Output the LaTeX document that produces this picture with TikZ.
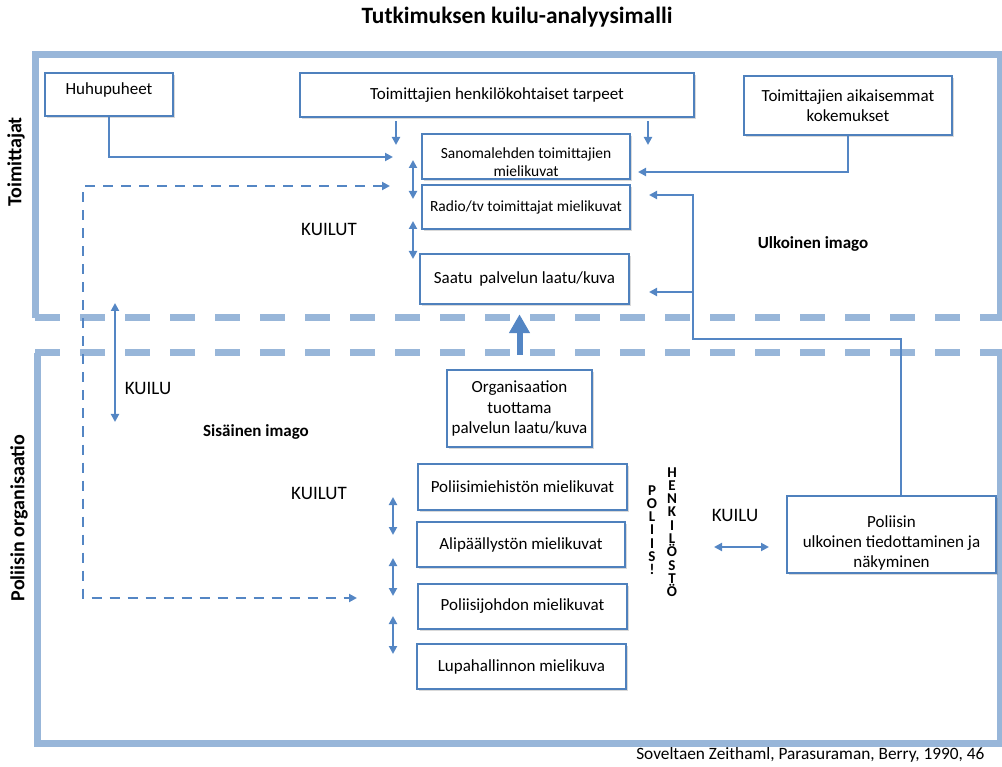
\documentclass[tikz,border=0pt]{standalone}
\usepackage{fontspec}
\setmainfont{Carlito}
\usetikzlibrary{arrows.meta,shadows}

\definecolor{band}{RGB}{152,182,217}
\definecolor{edge}{RGB}{79,129,189}
\definecolor{wire}{RGB}{84,134,196}

\tikzset{
  region/.style={draw=band, line width=7pt},
  regiondash/.style={region, dash pattern=on 25pt off 20pt},
  box/.style={draw=edge, line width=2.5pt, fill=white, inner sep=0pt, align=center,
    font=\fontsize{17}{20.5}\selectfont,
    drop shadow={shadow xshift=1.5pt, shadow yshift=-2pt, opacity=0.25, fill=black!60}},
  smallbox/.style={box, font=\fontsize{15.5}{18}\selectfont},
  wire/.style={draw=wire, line width=2.8pt},
  tip/.style={wire, -{Triangle[length=8pt,width=8pt]}},
  twotip/.style={wire, {Triangle[length=8pt,width=8pt]}-{Triangle[length=8pt,width=8pt]}},
  dashwire/.style={twotip, dash pattern=on 10pt off 8pt},
  bigarrow/.style={draw=wire, line width=6pt, -{Triangle[length=19pt,width=20pt]}},
  gaplabel/.style={font=\fontsize{19}{22}\selectfont},
  zonelabel/.style={font=\fontsize{17}{20}\selectfont\bfseries},
  sidelabel/.style={font=\fontsize{20}{22}\selectfont\bfseries, rotate=90},
  letter/.style={font=\fontsize{15}{16}\selectfont\bfseries, inner sep=0pt,
    text height=10pt, text depth=0pt}
}

\begin{document}
\begin{tikzpicture}[x=1pt,y=-1pt]
\useasboundingbox (0,0) rectangle (1002,767);

% title
\node[font=\fontsize{23.4}{26}\selectfont\bfseries] (title) at (517,17) {Tutkimuksen kuilu-analyysimalli};

% the two regions
\draw[region] (35,318) -- (35,55) -- (1000,55) -- (1000,318);
\draw[regiondash] (35,318) -- (1003,318);
\draw[regiondash] (35,353) -- (1003,353);
\draw[region] (37,353) -- (37,743) -- (1000,743) -- (1000,353);

\node[sidelabel] (toim) at (16,162) {Toimittajat};
\node[sidelabel] (polorg) at (19,518) {Poliisin organisaatio};

% upper boxes
\node[box, minimum width=128pt, minimum height=43pt] (huhu) at (109,94.5) {};
\node[font=\fontsize{17}{20.5}\selectfont] (huhutxt) at (109,90) {Huhupuheet};
\node[box, minimum width=394pt, minimum height=44pt] (tarp) at (497,95) {Toimittajien henkilökohtaiset tarpeet};
\node[box, minimum width=208pt, minimum height=59pt] (koke) at (848,105.5) {Toimittajien aikaisemmat\\kokemukset};
\node[smallbox, minimum width=208pt, minimum height=45pt] (sano) at (526,156.5) {};
\node[align=center, font=\fontsize{15.5}{18}\selectfont] (sanotxt) at (526,162) {Sanomalehden toimittajien\\mielikuvat};
\node[smallbox, minimum width=208pt, minimum height=44pt] (radio) at (526,207) {Radio/tv toimittajat mielikuvat};
\node[box, minimum width=209pt, minimum height=50pt] (saatu) at (524.5,279) {Saatu\hspace{3pt} palvelun laatu/kuva};

% lower boxes
\node[box, minimum width=145pt, minimum height=77pt] (org) at (519.5,408.5) {Organisaation\\tuottama\\palvelun laatu/kuva};
\node[box, minimum width=209pt, minimum height=46pt] (mies) at (522.5,487) {Poliisimiehistön mielikuvat};
\node[box, minimum width=208pt, minimum height=45pt] (ali) at (521,544.5) {Alipäällystön mielikuvat};
\node[box, minimum width=209pt, minimum height=45pt] (johto) at (522.5,606.5) {Poliisijohdon mielikuvat};
\node[box, minimum width=209pt, minimum height=45pt] (lupa) at (521.5,666.5) {Lupahallinnon mielikuva};
\node[box, minimum width=209pt, minimum height=77pt] (ulk) at (891.5,534.5) {};
\node[align=center, font=\fontsize{17}{20}\selectfont] (ulktxt) at (891.5,543) {Poliisin\\ulkoinen tiedottaminen ja\\näkyminen};

% free ends of the connectors
\coordinate (t1) at (396,145);
\coordinate (t2) at (648,145);
\coordinate (h1) at (393,157);
\coordinate (k1) at (638,172);
\coordinate (dA) at (390,186);
\coordinate (dB) at (83,186);
\coordinate (dC) at (83,598);
\coordinate (dD) at (357,598);
\coordinate (r1) at (901,339);
\coordinate (r2) at (693,339);
\coordinate (r3) at (649,195);
\coordinate (b1) at (693,292);
\coordinate (b2) at (649,292);
\coordinate (u1) at (413,160); \coordinate (u2) at (413,199);
\coordinate (u3) at (413,221); \coordinate (u4) at (413,259);
\coordinate (g1) at (115,303); \coordinate (g2) at (115,422);
\coordinate (l1) at (393,497); \coordinate (l2) at (393,535);
\coordinate (l3) at (393,558); \coordinate (l4) at (393,596);
\coordinate (l5) at (393,616); \coordinate (l6) at (393,654);
\coordinate (e1) at (714,547); \coordinate (e2) at (769,547);

% connectors in the journalists' region
\draw[tip, shorten <=3pt] (tarp.south -| t1) -- (t1);
\draw[tip, shorten <=3pt] (tarp.south -| t2) -- (t2);
\draw[tip] (huhu.south) |- (h1);
\draw[tip] (koke.south) |- (k1);
\draw[twotip] (u1) -- (u2);
\draw[twotip] (u3) -- (u4);

% internal image reaching the journalists
\draw[dashwire] (dA) -- (dB) -- (dC) -- (dD);

% external communication feeding back
\draw[tip] (ulk.north -| r1) |- (r2) |- (r3);
\draw[tip] (b1) -- (b2);

% produced quality towards received quality
\draw[bigarrow] ([yshift=14pt]org.north) -- ([yshift=-9pt]org.north |- saatu.south);

% gaps
\draw[twotip] (g1) -- (g2);
\draw[twotip] (l1) -- (l2);
\draw[twotip] (l3) -- (l4);
\draw[twotip] (l5) -- (l6);
\draw[twotip] (e1) -- (e2);

% labels
\node[gaplabel] (kuilut1) at (329,229) {KUILUT};
\node[gaplabel] (kuilu1) at (148,388) {KUILU};
\node[gaplabel] (kuilut2) at (319,493) {KUILUT};
\node[gaplabel] (kuilu2) at (735,515) {KUILU};
\node[zonelabel] (sis) at (256,432) {Sisäinen imago};
\node[zonelabel] (ulko) at (813,244) {Ulkoinen imago};

% staff, written as two stacked columns
\foreach \c [count=\i from 0] in {P,O,L,I,I,S,!}
  \node[letter] (pol\i) at (652,490+13.3*\i) {\c};
\foreach \c [count=\i from 0] in {H,E,N,K,I,L,Ö,S,T,Ö}
  \node[letter] (henk\i) at (672,472+13.3*\i) {\c};

\node[anchor=east, font=\fontsize{17.3}{20}\selectfont] (lahde) at (988,755) {Soveltaen Zeithaml, Parasuraman, Berry, 1990, 46};
\end{tikzpicture}
\end{document}
